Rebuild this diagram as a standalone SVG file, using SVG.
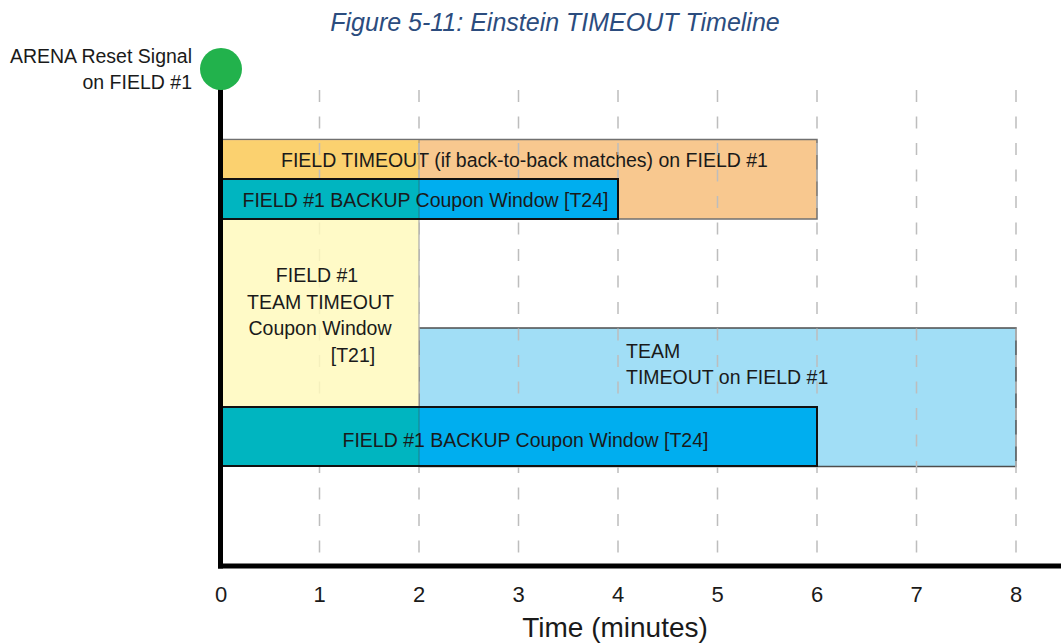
<svg xmlns="http://www.w3.org/2000/svg" width="1061" height="643" viewBox="0 0 1061 643">
  <style>
    text { font-family: "Liberation Sans", Arial, sans-serif; fill: #1a1a1a; }
    .bar { font-size: 19.5px; }
    .tick { font-size: 22px; text-anchor: middle; }
    .grid { stroke: #bdbdbd; stroke-width: 1.5; stroke-dasharray: 12 14.5; fill: none; }
    .title { font-size: 25px; font-style: italic; fill: #2b4c7e; text-anchor: middle; }
  </style>
  <rect width="1061" height="643" fill="#ffffff"/>
  <text class="title" x="555" y="31">Figure 5-11: Einstein TIMEOUT Timeline</text>

  <g id="field-timeout">
    <rect x="221" y="139.5" width="596" height="79.5" fill="#f8c88f" stroke="#707070" stroke-width="1.5"/>
    <rect x="222" y="140.3" width="197" height="38.5" fill="#fbd16f"/>
    <line x1="419" y1="140" x2="419" y2="179" stroke="#9a8a70" stroke-width="1"/>
    <text class="bar" x="524.5" y="167" text-anchor="middle">FIELD TIMEOUT (if back-to-back matches) on FIELD #1</text>
  </g>

  <g id="team-timeout-field">
    <rect x="419" y="328" width="597" height="138.5" fill="#a1def6" stroke="#4d4d4d" stroke-width="1.5"/>
    <text class="bar" x="626" y="357.5" font-size="19px">TEAM</text>
    <text class="bar" x="626" y="384" font-size="19px">TIMEOUT on FIELD #1</text>
  </g>

  <g id="grid">
    <line class="grid" x1="319.5" y1="90" x2="319.5" y2="556"/>
    <line class="grid" x1="419" y1="90" x2="419" y2="556"/>
    <line class="grid" x1="518.5" y1="90" x2="518.5" y2="556"/>
    <line class="grid" x1="618" y1="90" x2="618" y2="556"/>
    <line class="grid" x1="717.5" y1="90" x2="717.5" y2="556"/>
    <line class="grid" x1="817" y1="90" x2="817" y2="556"/>
    <line class="grid" x1="916.5" y1="90" x2="916.5" y2="556"/>
    <line class="grid" x1="1016" y1="90" x2="1016" y2="556"/>
  </g>

  <g id="t21-window">
    <rect x="221" y="219" width="198" height="188" fill="#fff9bd" fill-opacity="0.85" stroke="#a8a8a8" stroke-width="1.2"/>
    <text class="bar" x="317" y="282" text-anchor="middle">FIELD #1</text>
    <text class="bar" x="320.5" y="308.5" text-anchor="middle">TEAM TIMEOUT</text>
    <text class="bar" x="320" y="335" text-anchor="middle">Coupon Window</text>
    <text class="bar" x="353" y="361.5" text-anchor="middle">[T21]</text>
  </g>

  <g id="t24-top">
    <rect x="221" y="179" width="397" height="40" fill="#00aeef" stroke="#111" stroke-width="2"/>
    <rect x="222" y="180" width="197" height="38" fill="#00b5c0"/>
    <line x1="419" y1="180" x2="419" y2="218" stroke="#1f7f8a" stroke-width="1"/>
    <text class="bar" x="425.5" y="207" text-anchor="middle">FIELD #1 BACKUP Coupon Window [T24]</text>
  </g>

  <g id="t24-bottom">
    <rect x="221" y="407" width="596" height="59" fill="#00aeef" stroke="#111" stroke-width="2"/>
    <rect x="222" y="408" width="197" height="57" fill="#00b5c0"/>
    <line x1="419" y1="408" x2="419" y2="465" stroke="#1f7f8a" stroke-width="1"/>
    <text class="bar" x="525.5" y="447" text-anchor="middle">FIELD #1 BACKUP Coupon Window [T24]</text>
  </g>

  <g id="axes">
    <line x1="220.5" y1="72" x2="220.5" y2="568.5" stroke="#000" stroke-width="5"/>
    <line x1="218" y1="566" x2="1061" y2="566" stroke="#000" stroke-width="5"/>
    <g id="ticks">
      <text class="tick" x="221" y="602">0</text>
      <text class="tick" x="319.5" y="602">1</text>
      <text class="tick" x="419" y="602">2</text>
      <text class="tick" x="518.5" y="602">3</text>
      <text class="tick" x="618" y="602">4</text>
      <text class="tick" x="717.5" y="602">5</text>
      <text class="tick" x="817" y="602">6</text>
      <text class="tick" x="916.5" y="602">7</text>
      <text class="tick" x="1016" y="602">8</text>
    </g>
    <text x="615" y="637" font-size="28px" text-anchor="middle">Time (minutes)</text>
  </g>

  <g id="reset-signal">
    <circle cx="221" cy="69" r="21" fill="#22b24c"/>
    <text x="192" y="63" font-size="19.5px" text-anchor="end">ARENA Reset Signal</text>
    <text x="192" y="89" font-size="19.5px" text-anchor="end">on FIELD #1</text>
  </g>
</svg>
